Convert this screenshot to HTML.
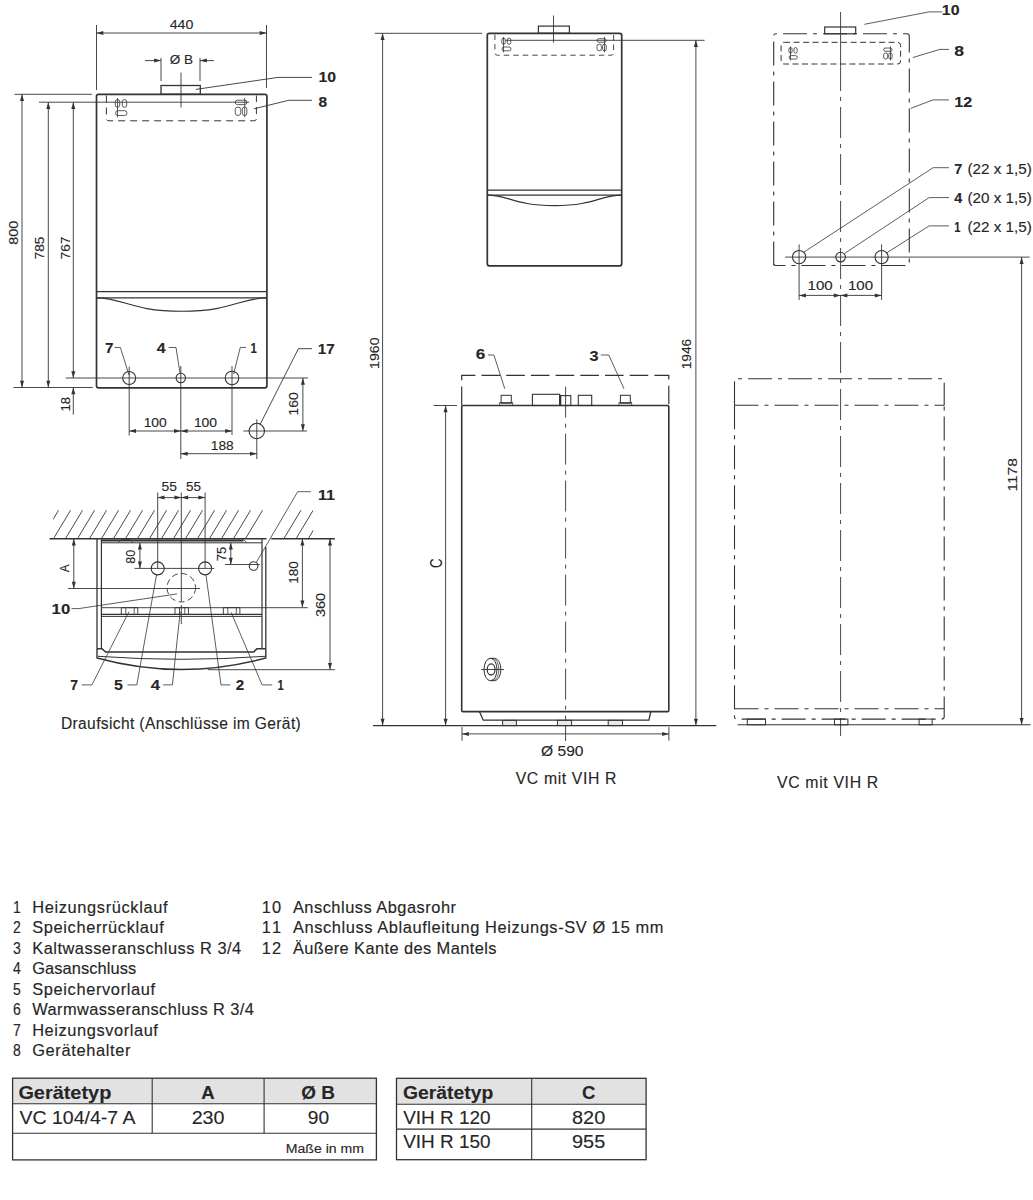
<!DOCTYPE html>
<html><head><meta charset="utf-8"><style>
html,body{margin:0;padding:0;background:#fff;}
body{width:1033px;height:1200px;overflow:hidden;}
svg{display:block;font-family:"Liberation Sans",sans-serif;}
</style></head><body>
<svg width="1033" height="1200" viewBox="0 0 1033 1200">
<rect x="0" y="0" width="1033" height="1200" fill="#fff"/>
<rect x="96.5" y="94.3" width="170.4" height="293.5" rx="2" fill="none" stroke="#333333" stroke-width="1.7"/>
<line x1="96.5" y1="291.6" x2="266.9" y2="291.6" stroke="#333333" stroke-width="1.2"/>
<line x1="96.5" y1="297.9" x2="266.9" y2="297.9" stroke="#333333" stroke-width="1.2"/>
<path d="M96.5,297.9 C123.76,297.9 130.58,311.3 181.7,311.3 C232.82,311.3 239.64,297.9 266.9,297.9" fill="none" stroke="#333333" stroke-width="1.1"/>
<rect x="161" y="85.5" width="39.3" height="8.8" fill="none" stroke="#333333" stroke-width="1.3"/>
<line x1="181" y1="72.6" x2="181" y2="107.5" stroke="#333333" stroke-width="0.9"/>
<line x1="39" y1="102.2" x2="249" y2="102.2" stroke="#333333" stroke-width="0.9"/>
<path d="M106.4,95.5 V118.3 Q106.4,120.8 109,120.8 H254 Q256.4,120.8 256.4,118.3 V95.5" fill="none" stroke="#333333" stroke-width="1.0" stroke-dasharray="7,5"/>
<rect x="115.3" y="99.5" width="4.4" height="7.8" rx="2.2" fill="none" stroke="#333333" stroke-width="0.8"/>
<line x1="117.5" y1="98" x2="117.5" y2="117.4" stroke="#333333" stroke-width="0.8"/>
<rect x="122.3" y="99.5" width="4.4" height="7.8" rx="2.2" fill="none" stroke="#333333" stroke-width="0.8"/>
<rect x="115.6" y="110.7" width="11.4" height="4.8" rx="2.4" fill="none" stroke="#333333" stroke-width="0.8"/>
<rect x="235.2" y="100.2" width="11.7" height="4.4" rx="2.2" fill="none" stroke="#333333" stroke-width="0.8"/>
<line x1="244.7" y1="97.8" x2="244.7" y2="117.4" stroke="#333333" stroke-width="0.8"/>
<rect x="235.2" y="107" width="5.6" height="8.5" rx="2.8" fill="none" stroke="#333333" stroke-width="0.8"/>
<rect x="242.3" y="107" width="4.6" height="8.5" rx="2.3" fill="none" stroke="#333333" stroke-width="0.8"/>
<line x1="96.5" y1="25" x2="96.5" y2="90" stroke="#333333" stroke-width="0.9"/>
<line x1="266.5" y1="25" x2="266.5" y2="88" stroke="#333333" stroke-width="0.9"/>
<line x1="96.5" y1="33" x2="266.5" y2="33" stroke="#333333" stroke-width="0.9"/>
<polygon points="96.5,33 103.3,31 103.3,35" fill="#333333"/>
<polygon points="266.5,33 259.7,31 259.7,35" fill="#333333"/>
<text x="181.5" y="29" font-size="12.6" text-anchor="middle" textLength="23.6" lengthAdjust="spacingAndGlyphs" fill="#262626" stroke="#262626" stroke-width="0.12">440</text>
<line x1="161" y1="58" x2="161" y2="81" stroke="#333333" stroke-width="0.9"/>
<line x1="200" y1="58" x2="200" y2="81" stroke="#333333" stroke-width="0.9"/>
<line x1="145" y1="60.6" x2="161" y2="60.6" stroke="#333333" stroke-width="0.9"/>
<polygon points="161,60.6 154.2,58.6 154.2,62.6" fill="#333333"/>
<line x1="214" y1="60.6" x2="200" y2="60.6" stroke="#333333" stroke-width="0.9"/>
<polygon points="200,60.6 206.8,58.6 206.8,62.6" fill="#333333"/>
<text x="181.3" y="64" font-size="12" text-anchor="middle" textLength="23.3" lengthAdjust="spacingAndGlyphs" fill="#262626" stroke="#262626" stroke-width="0.12">Ø B</text>
<polyline points="195.8,89.4 278,77.4 312,77.4" fill="none" stroke="#333333" stroke-width="0.9"/>
<text x="318.4" y="82.3" font-size="15.5" font-weight="bold" textLength="17.6" lengthAdjust="spacingAndGlyphs" fill="#262626" stroke="#262626" stroke-width="0.12">10</text>
<polyline points="254,108.8 288.7,100.3 312,100.3" fill="none" stroke="#333333" stroke-width="0.9"/>
<text x="318.4" y="106.5" font-size="15.5" font-weight="bold" textLength="8.6" lengthAdjust="spacingAndGlyphs" fill="#262626" stroke="#262626" stroke-width="0.12">8</text>
<line x1="14.5" y1="94.3" x2="92" y2="94.3" stroke="#333333" stroke-width="0.9"/>
<line x1="22" y1="94.3" x2="22" y2="387.5" stroke="#333333" stroke-width="0.9"/>
<polygon points="22,94.3 20,101.1 24,101.1" fill="#333333"/>
<polygon points="22,387.5 20,380.7 24,380.7" fill="#333333"/>
<line x1="48.3" y1="102.2" x2="48.3" y2="387.5" stroke="#333333" stroke-width="0.9"/>
<polygon points="48.3,102.2 46.3,109 50.3,109" fill="#333333"/>
<polygon points="48.3,387.5 46.3,380.7 50.3,380.7" fill="#333333"/>
<line x1="73.3" y1="102.2" x2="73.3" y2="378" stroke="#333333" stroke-width="0.9"/>
<polygon points="73.3,102.2 71.3,109 75.3,109" fill="#333333"/>
<polygon points="73.3,378 71.3,371.2 75.3,371.2" fill="#333333"/>
<line x1="13.5" y1="387.5" x2="92.7" y2="387.5" stroke="#333333" stroke-width="0.9"/>
<line x1="65.6" y1="378" x2="308" y2="378" stroke="#333333" stroke-width="0.9"/>
<text transform="translate(18.11,232.8) rotate(-90)" x="0" y="0" font-size="12.6" text-anchor="middle" textLength="24" lengthAdjust="spacingAndGlyphs" fill="#262626" stroke="#262626" stroke-width="0.12">800</text>
<text transform="translate(44.01,248) rotate(-90)" x="0" y="0" font-size="12.6" text-anchor="middle" textLength="23" lengthAdjust="spacingAndGlyphs" fill="#262626" stroke="#262626" stroke-width="0.12">785</text>
<text transform="translate(70.01,248) rotate(-90)" x="0" y="0" font-size="12.6" text-anchor="middle" textLength="23" lengthAdjust="spacingAndGlyphs" fill="#262626" stroke="#262626" stroke-width="0.12">767</text>
<line x1="73.3" y1="387.5" x2="73.3" y2="414.6" stroke="#333333" stroke-width="0.9"/>
<polygon points="73.3,387.5 71.3,394.3 75.3,394.3" fill="#333333"/>
<text transform="translate(69.81,404.2) rotate(-90)" x="0" y="0" font-size="12.6" text-anchor="middle" textLength="14.5" lengthAdjust="spacingAndGlyphs" fill="#262626" stroke="#262626" stroke-width="0.12">18</text>
<circle cx="129.2" cy="378" r="6.5" fill="none" stroke="#333333" stroke-width="1.1"/>
<circle cx="180.8" cy="378" r="4.7" fill="none" stroke="#333333" stroke-width="1.1"/>
<circle cx="232" cy="378" r="6.8" fill="none" stroke="#333333" stroke-width="1.1"/>
<line x1="129.2" y1="366.7" x2="129.2" y2="435.4" stroke="#333333" stroke-width="0.9"/>
<line x1="180.8" y1="366" x2="180.8" y2="459" stroke="#333333" stroke-width="0.9"/>
<line x1="232" y1="366" x2="232" y2="435" stroke="#333333" stroke-width="0.9"/>
<text x="105" y="353" font-size="15.5" font-weight="bold" textLength="8.5" lengthAdjust="spacingAndGlyphs" fill="#262626" stroke="#262626" stroke-width="0.12">7</text>
<text x="156.7" y="353" font-size="15.5" font-weight="bold" textLength="8.9" lengthAdjust="spacingAndGlyphs" fill="#262626" stroke="#262626" stroke-width="0.12">4</text>
<text x="250.5" y="352.6" font-size="15.5" font-weight="bold" textLength="6.3" lengthAdjust="spacingAndGlyphs" fill="#262626" stroke="#262626" stroke-width="0.12">1</text>
<polyline points="114.6,347.5 120.4,347.5 129,375" fill="none" stroke="#333333" stroke-width="0.8"/>
<polyline points="168.7,347.5 176,347.5 180,373" fill="none" stroke="#333333" stroke-width="0.8"/>
<polyline points="246,347.4 240.3,347.4 233.6,374" fill="none" stroke="#333333" stroke-width="0.8"/>
<line x1="129.2" y1="431" x2="180.8" y2="431" stroke="#333333" stroke-width="0.9"/>
<polygon points="129.2,431 136,429 136,433" fill="#333333"/>
<polygon points="180.8,431 174,429 174,433" fill="#333333"/>
<line x1="180.8" y1="431" x2="232" y2="431" stroke="#333333" stroke-width="0.9"/>
<polygon points="180.8,431 187.6,429 187.6,433" fill="#333333"/>
<polygon points="232,431 225.2,429 225.2,433" fill="#333333"/>
<text x="155.2" y="427" font-size="12.6" text-anchor="middle" textLength="23" lengthAdjust="spacingAndGlyphs" fill="#262626" stroke="#262626" stroke-width="0.12">100</text>
<text x="205.5" y="427" font-size="12.6" text-anchor="middle" textLength="23.2" lengthAdjust="spacingAndGlyphs" fill="#262626" stroke="#262626" stroke-width="0.12">100</text>
<circle cx="256.8" cy="431" r="7.7" fill="none" stroke="#333333" stroke-width="1.1"/>
<line x1="243.3" y1="431" x2="307" y2="431" stroke="#333333" stroke-width="0.9"/>
<line x1="256.8" y1="419.4" x2="256.8" y2="459" stroke="#333333" stroke-width="0.9"/>
<polyline points="259.7,425.2 298.4,348.7 312,348.7" fill="none" stroke="#333333" stroke-width="0.9"/>
<text x="317.8" y="353.6" font-size="15.5" font-weight="bold" textLength="17" lengthAdjust="spacingAndGlyphs" fill="#262626" stroke="#262626" stroke-width="0.12">17</text>
<line x1="180.8" y1="453.7" x2="256.8" y2="453.7" stroke="#333333" stroke-width="0.9"/>
<polygon points="180.8,453.7 187.6,451.7 187.6,455.7" fill="#333333"/>
<polygon points="256.8,453.7 250,451.7 250,455.7" fill="#333333"/>
<text x="222.2" y="450.4" font-size="12.6" text-anchor="middle" textLength="22.9" lengthAdjust="spacingAndGlyphs" fill="#262626" stroke="#262626" stroke-width="0.12">188</text>
<line x1="302.9" y1="378" x2="302.9" y2="431" stroke="#333333" stroke-width="0.9"/>
<polygon points="302.9,378 300.9,384.8 304.9,384.8" fill="#333333"/>
<polygon points="302.9,431 300.9,424.2 304.9,424.2" fill="#333333"/>
<text transform="translate(297.91,403.9) rotate(-90)" x="0" y="0" font-size="12.6" text-anchor="middle" textLength="23.2" lengthAdjust="spacingAndGlyphs" fill="#262626" stroke="#262626" stroke-width="0.12">160</text>
<clipPath id="hc1"><rect x="53.3" y="505" width="213" height="34"/></clipPath>
<clipPath id="hc2"><rect x="272" y="505" width="41.2" height="34"/></clipPath>
<g clip-path="url(#hc1)">
<line x1="41.5" y1="538.6" x2="58.6" y2="510.2" stroke="#333333" stroke-width="0.9"/>
<line x1="53.5" y1="538.6" x2="70.6" y2="510.2" stroke="#333333" stroke-width="0.9"/>
<line x1="65.5" y1="538.6" x2="82.6" y2="510.2" stroke="#333333" stroke-width="0.9"/>
<line x1="77.5" y1="538.6" x2="94.6" y2="510.2" stroke="#333333" stroke-width="0.9"/>
<line x1="89.5" y1="538.6" x2="106.6" y2="510.2" stroke="#333333" stroke-width="0.9"/>
<line x1="101.5" y1="538.6" x2="118.6" y2="510.2" stroke="#333333" stroke-width="0.9"/>
<line x1="113.5" y1="538.6" x2="130.6" y2="510.2" stroke="#333333" stroke-width="0.9"/>
<line x1="125.5" y1="538.6" x2="142.6" y2="510.2" stroke="#333333" stroke-width="0.9"/>
<line x1="137.5" y1="538.6" x2="154.6" y2="510.2" stroke="#333333" stroke-width="0.9"/>
<line x1="149.5" y1="538.6" x2="166.6" y2="510.2" stroke="#333333" stroke-width="0.9"/>
<line x1="161.5" y1="538.6" x2="178.6" y2="510.2" stroke="#333333" stroke-width="0.9"/>
<line x1="173.5" y1="538.6" x2="190.6" y2="510.2" stroke="#333333" stroke-width="0.9"/>
<line x1="185.5" y1="538.6" x2="202.6" y2="510.2" stroke="#333333" stroke-width="0.9"/>
<line x1="197.5" y1="538.6" x2="214.6" y2="510.2" stroke="#333333" stroke-width="0.9"/>
<line x1="209.5" y1="538.6" x2="226.6" y2="510.2" stroke="#333333" stroke-width="0.9"/>
<line x1="221.5" y1="538.6" x2="238.6" y2="510.2" stroke="#333333" stroke-width="0.9"/>
<line x1="233.5" y1="538.6" x2="250.6" y2="510.2" stroke="#333333" stroke-width="0.9"/>
<line x1="245.5" y1="538.6" x2="262.6" y2="510.2" stroke="#333333" stroke-width="0.9"/>
</g><g clip-path="url(#hc2)">
<line x1="283.9" y1="538.6" x2="301" y2="510.2" stroke="#333333" stroke-width="0.9"/>
<line x1="296.1" y1="538.6" x2="313.2" y2="510.2" stroke="#333333" stroke-width="0.9"/>
<line x1="308.3" y1="538.6" x2="325.4" y2="510.2" stroke="#333333" stroke-width="0.9"/>
</g>
<line x1="49.6" y1="538.7" x2="266.5" y2="538.7" stroke="#333333" stroke-width="1.6"/>
<line x1="271.3" y1="538.7" x2="334.9" y2="538.7" stroke="#333333" stroke-width="1.6"/>
<line x1="97" y1="538.7" x2="97" y2="648.7" stroke="#333333" stroke-width="1.3"/>
<line x1="101.4" y1="538.7" x2="101.4" y2="648.7" stroke="#333333" stroke-width="1.2"/>
<line x1="262" y1="538.7" x2="262" y2="648.7" stroke="#333333" stroke-width="1.2"/>
<line x1="265.8" y1="547" x2="265.8" y2="648.7" stroke="#333333" stroke-width="1.3"/>
<line x1="101.4" y1="542.8" x2="262" y2="542.8" stroke="#333333" stroke-width="1.0"/>
<polyline points="101.4,540.6 243.5,540.6" fill="none" stroke="#333333" stroke-width="2.0"/>
<polyline points="118,542.8 121.5,539.5 130,539.5 133,542.8" fill="none" stroke="#333333" stroke-width="0.8"/>
<polyline points="243.5,539.5 247,542.8" fill="none" stroke="#333333" stroke-width="0.8"/>
<line x1="73.8" y1="538.7" x2="73.8" y2="588.5" stroke="#333333" stroke-width="0.9"/>
<polygon points="73.8,538.7 71.8,545.5 75.8,545.5" fill="#333333"/>
<polygon points="73.8,588.5 71.8,581.7 75.8,581.7" fill="#333333"/>
<text transform="translate(69.11,568.3) rotate(-90)" x="0" y="0" font-size="12.6" text-anchor="middle" textLength="7.8" lengthAdjust="spacingAndGlyphs" fill="#262626" stroke="#262626" stroke-width="0.12">A</text>
<line x1="67.9" y1="588.5" x2="200" y2="588.5" stroke="#333333" stroke-width="0.9"/>
<line x1="139.9" y1="542.8" x2="139.9" y2="568.4" stroke="#333333" stroke-width="0.9"/>
<polygon points="139.9,542.8 137.9,549.6 141.9,549.6" fill="#333333"/>
<polygon points="139.9,568.4 137.9,561.6 141.9,561.6" fill="#333333"/>
<text transform="translate(135.01,556.7) rotate(-90)" x="0" y="0" font-size="12.6" text-anchor="middle" textLength="14" lengthAdjust="spacingAndGlyphs" fill="#262626" stroke="#262626" stroke-width="0.12">80</text>
<line x1="134.5" y1="568.4" x2="214.3" y2="568.4" stroke="#333333" stroke-width="0.9"/>
<circle cx="157.7" cy="568.4" r="6.5" fill="none" stroke="#333333" stroke-width="1.1"/>
<circle cx="205.1" cy="568.4" r="6.5" fill="none" stroke="#333333" stroke-width="1.1"/>
<line x1="157.7" y1="492.5" x2="157.7" y2="568.4" stroke="#333333" stroke-width="0.9"/>
<line x1="205.1" y1="492.5" x2="205.1" y2="568.4" stroke="#333333" stroke-width="0.9"/>
<line x1="181.3" y1="492.5" x2="181.3" y2="601.7" stroke="#333333" stroke-width="0.9"/>
<line x1="181.3" y1="605" x2="181.3" y2="624" stroke="#333333" stroke-width="0.9"/>
<line x1="157.7" y1="497.6" x2="181.3" y2="497.6" stroke="#333333" stroke-width="0.9"/>
<polygon points="157.7,497.6 164.5,495.6 164.5,499.6" fill="#333333"/>
<polygon points="181.3,497.6 174.5,495.6 174.5,499.6" fill="#333333"/>
<line x1="181.3" y1="497.6" x2="205.1" y2="497.6" stroke="#333333" stroke-width="0.9"/>
<polygon points="181.3,497.6 188.1,495.6 188.1,499.6" fill="#333333"/>
<polygon points="205.1,497.6 198.3,495.6 198.3,499.6" fill="#333333"/>
<text x="169.3" y="491" font-size="12.6" text-anchor="middle" textLength="15.4" lengthAdjust="spacingAndGlyphs" fill="#262626" stroke="#262626" stroke-width="0.12">55</text>
<text x="193.4" y="491" font-size="12.6" text-anchor="middle" textLength="15" lengthAdjust="spacingAndGlyphs" fill="#262626" stroke="#262626" stroke-width="0.12">55</text>
<circle cx="181.3" cy="587.7" r="14.25" fill="none" stroke="#333333" stroke-width="0.9" stroke-dasharray="6,3.5"/>
<text x="51.6" y="614" font-size="15.5" font-weight="bold" textLength="18.6" lengthAdjust="spacingAndGlyphs" fill="#262626" stroke="#262626" stroke-width="0.12">10</text>
<polyline points="71.5,608.6 78.7,608.6 177,593.9" fill="none" stroke="#333333" stroke-width="0.8"/>
<line x1="230.8" y1="542.8" x2="230.8" y2="564.5" stroke="#333333" stroke-width="0.9"/>
<polygon points="230.8,542.8 228.8,549.6 232.8,549.6" fill="#333333"/>
<polygon points="230.8,564.5 228.8,557.7 232.8,557.7" fill="#333333"/>
<text transform="translate(225.91,554) rotate(-90)" x="0" y="0" font-size="12.6" text-anchor="middle" textLength="14.7" lengthAdjust="spacingAndGlyphs" fill="#262626" stroke="#262626" stroke-width="0.12">75</text>
<line x1="225" y1="564.5" x2="259.8" y2="564.5" stroke="#333333" stroke-width="0.9"/>
<circle cx="253.6" cy="566" r="4.3" fill="none" stroke="#333333" stroke-width="1.1"/>
<polyline points="255.9,563 297.7,491.7 310.9,491.7" fill="none" stroke="#333333" stroke-width="0.8"/>
<text x="317.9" y="499.7" font-size="15.5" font-weight="bold" textLength="17" lengthAdjust="spacingAndGlyphs" fill="#262626" stroke="#262626" stroke-width="0.12">11</text>
<line x1="302.4" y1="538.7" x2="302.4" y2="607.3" stroke="#333333" stroke-width="0.9"/>
<polygon points="302.4,538.7 300.4,545.5 304.4,545.5" fill="#333333"/>
<polygon points="302.4,607.3 300.4,600.5 304.4,600.5" fill="#333333"/>
<text transform="translate(297.91,572.6) rotate(-90)" x="0" y="0" font-size="12.6" text-anchor="middle" textLength="22.4" lengthAdjust="spacingAndGlyphs" fill="#262626" stroke="#262626" stroke-width="0.12">180</text>
<line x1="101.4" y1="607.7" x2="307.8" y2="607.7" stroke="#333333" stroke-width="0.9"/>
<line x1="330" y1="538.7" x2="330" y2="669.7" stroke="#333333" stroke-width="0.9"/>
<polygon points="330,538.7 328,545.5 332,545.5" fill="#333333"/>
<polygon points="330,669.7 328,662.9 332,662.9" fill="#333333"/>
<text transform="translate(325.41,605) rotate(-90)" x="0" y="0" font-size="12.6" text-anchor="middle" textLength="24.2" lengthAdjust="spacingAndGlyphs" fill="#262626" stroke="#262626" stroke-width="0.12">360</text>
<line x1="207.7" y1="669.7" x2="334.9" y2="669.7" stroke="#333333" stroke-width="0.9"/>
<line x1="101.4" y1="614.4" x2="262" y2="614.4" stroke="#333333" stroke-width="1.3"/>
<line x1="101.4" y1="616.4" x2="262" y2="616.4" stroke="#333333" stroke-width="1.0"/>
<rect x="121.3" y="607.7" width="16.5" height="6.7" fill="none" stroke="#333333" stroke-width="0.9"/>
<line x1="125.8" y1="607.7" x2="125.8" y2="614.4" stroke="#333333" stroke-width="0.8"/>
<line x1="134.2" y1="607.7" x2="134.2" y2="614.4" stroke="#333333" stroke-width="0.8"/>
<rect x="175" y="607.7" width="13.4" height="6.7" fill="none" stroke="#333333" stroke-width="0.9"/>
<line x1="179.5" y1="607.7" x2="179.5" y2="614.4" stroke="#333333" stroke-width="0.8"/>
<line x1="184.8" y1="607.7" x2="184.8" y2="614.4" stroke="#333333" stroke-width="0.8"/>
<rect x="223.3" y="607.7" width="16.6" height="6.7" fill="none" stroke="#333333" stroke-width="0.9"/>
<line x1="227.8" y1="607.7" x2="227.8" y2="614.4" stroke="#333333" stroke-width="0.8"/>
<line x1="236.3" y1="607.7" x2="236.3" y2="614.4" stroke="#333333" stroke-width="0.8"/>
<path d="M97,648.7 V658 Q181.4,681 265.8,658 V648.7" fill="none" stroke="#333333" stroke-width="1.4"/>
<path d="M97,648.7 H102 L105.6,652 H253.7 L257,648.7 H265.8" fill="none" stroke="#333333" stroke-width="1.6"/>
<path d="M98,656.3 Q181.4,662.3 265,656.3" fill="none" stroke="#333333" stroke-width="1.0"/>
<text x="70.2" y="689.8" font-size="15.5" font-weight="bold" textLength="7.8" lengthAdjust="spacingAndGlyphs" fill="#262626" stroke="#262626" stroke-width="0.12">7</text>
<text x="114" y="689.8" font-size="15.5" font-weight="bold" textLength="8.9" lengthAdjust="spacingAndGlyphs" fill="#262626" stroke="#262626" stroke-width="0.12">5</text>
<text x="150.7" y="689.8" font-size="15.5" font-weight="bold" textLength="9.3" lengthAdjust="spacingAndGlyphs" fill="#262626" stroke="#262626" stroke-width="0.12">4</text>
<text x="235.8" y="689.8" font-size="15.5" font-weight="bold" textLength="8.5" lengthAdjust="spacingAndGlyphs" fill="#262626" stroke="#262626" stroke-width="0.12">2</text>
<text x="277.6" y="689.8" font-size="15.5" font-weight="bold" textLength="6.2" lengthAdjust="spacingAndGlyphs" fill="#262626" stroke="#262626" stroke-width="0.12">1</text>
<polyline points="81.8,684.9 91.9,684.9 129,611.6" fill="none" stroke="#333333" stroke-width="0.8"/>
<polyline points="127.5,684.9 136.8,684.9 156.5,575" fill="none" stroke="#333333" stroke-width="0.8"/>
<polyline points="163.1,684.9 172.4,684.9 180.2,611.6" fill="none" stroke="#333333" stroke-width="0.8"/>
<polyline points="230.3,684.9 221,684.9 206,575" fill="none" stroke="#333333" stroke-width="0.8"/>
<polyline points="272.2,684.9 262.1,684.9 231.1,612.4" fill="none" stroke="#333333" stroke-width="0.8"/>
<text x="60.9" y="729" font-size="15.6" textLength="239.9" lengthAdjust="spacing" fill="#262626" stroke="#262626" stroke-width="0.12">Draufsicht (Anschlüsse im Gerät)</text>
<rect x="487.3" y="33.3" width="134.4" height="232.5" rx="2" fill="none" stroke="#333333" stroke-width="1.7"/>
<line x1="487.3" y1="190.1" x2="621.7" y2="190.1" stroke="#333333" stroke-width="1.2"/>
<line x1="487.3" y1="195.1" x2="621.7" y2="195.1" stroke="#333333" stroke-width="1.2"/>
<path d="M487.3,195.1 C508.8,195.1 514.18,205.6 554.5,205.6 C594.82,205.6 600.2,195.1 621.7,195.1" fill="none" stroke="#333333" stroke-width="1.1"/>
<rect x="538.4" y="26.1" width="31" height="7.2" fill="none" stroke="#333333" stroke-width="1.2"/>
<line x1="553.5" y1="15.5" x2="553.5" y2="42.6" stroke="#333333" stroke-width="0.9"/>
<line x1="505.5" y1="40.3" x2="704.6" y2="40.3" stroke="#333333" stroke-width="0.9"/>
<path d="M494.9,34.5 V52.7 Q494.9,55.2 497.4,55.2 H611.1 Q613.6,55.2 613.6,52.7 V34.5" fill="none" stroke="#333333" stroke-width="0.9" stroke-dasharray="5.5,4"/>
<rect x="501.76" y="38.17" width="3.48" height="6.16" rx="1.7380000000000002" fill="none" stroke="#333333" stroke-width="0.8"/>
<line x1="503.5" y1="36.98" x2="503.5" y2="52.31" stroke="#333333" stroke-width="0.8"/>
<rect x="507.29" y="38.17" width="3.48" height="6.16" rx="1.7380000000000002" fill="none" stroke="#333333" stroke-width="0.8"/>
<rect x="502" y="47.02" width="9.01" height="3.79" rx="1.896" fill="none" stroke="#333333" stroke-width="0.8"/>
<rect x="597" y="38.72" width="9.24" height="3.48" rx="1.7380000000000002" fill="none" stroke="#333333" stroke-width="0.8"/>
<line x1="604.5" y1="36.82" x2="604.5" y2="52.31" stroke="#333333" stroke-width="0.8"/>
<rect x="597" y="44.09" width="4.42" height="6.71" rx="2.2119999999999997" fill="none" stroke="#333333" stroke-width="0.8"/>
<rect x="602.6" y="44.09" width="3.63" height="6.71" rx="1.817" fill="none" stroke="#333333" stroke-width="0.8"/>
<line x1="374.8" y1="33.3" x2="482.3" y2="33.3" stroke="#333333" stroke-width="0.9"/>
<line x1="382.6" y1="33.3" x2="382.6" y2="725.6" stroke="#333333" stroke-width="0.9"/>
<polygon points="382.6,33.3 380.6,40.1 384.6,40.1" fill="#333333"/>
<polygon points="382.6,725.6 380.6,718.8 384.6,718.8" fill="#333333"/>
<text transform="translate(378.91,353.2) rotate(-90)" x="0" y="0" font-size="12.6" text-anchor="middle" textLength="31.4" lengthAdjust="spacingAndGlyphs" fill="#262626" stroke="#262626" stroke-width="0.12">1960</text>
<line x1="695.9" y1="40.3" x2="695.9" y2="725.6" stroke="#333333" stroke-width="0.9"/>
<polygon points="695.9,40.3 693.9,47.1 697.9,47.1" fill="#333333"/>
<polygon points="695.9,725.6 693.9,718.8 697.9,718.8" fill="#333333"/>
<text transform="translate(691.31,354) rotate(-90)" x="0" y="0" font-size="12.6" text-anchor="middle" textLength="30.5" lengthAdjust="spacingAndGlyphs" fill="#262626" stroke="#262626" stroke-width="0.12">1946</text>
<rect x="461.7" y="405.5" width="207.1" height="306.1" rx="1.2" fill="none" stroke="#333333" stroke-width="1.6"/>
<path d="M461.7,405 V375.4 H668.8 V405" fill="none" stroke="#333333" stroke-width="1.2" stroke-dasharray="18.6,6.1"/>
<rect x="501.1" y="395.3" width="10.2" height="8" fill="none" stroke="#333333" stroke-width="1.0"/>
<rect x="499.7" y="402.6" width="13" height="2.9" fill="none" stroke="#333333" stroke-width="0.8"/>
<rect x="620.4" y="395.3" width="9.9" height="8" fill="none" stroke="#333333" stroke-width="1.0"/>
<rect x="619" y="402.6" width="12.7" height="2.9" fill="none" stroke="#333333" stroke-width="0.8"/>
<rect x="532.4" y="394.3" width="27.3" height="11.2" fill="none" stroke="#333333" stroke-width="1.1"/>
<rect x="559.9" y="395.6" width="10.9" height="9.9" fill="none" stroke="#333333" stroke-width="1.1"/>
<line x1="560.3" y1="395.6" x2="560.3" y2="405.5" stroke="#333333" stroke-width="2.0"/>
<rect x="578.3" y="395.3" width="13.4" height="10.2" fill="none" stroke="#333333" stroke-width="1.1"/>
<line x1="565.6" y1="386.6" x2="565.6" y2="741" stroke="#333333" stroke-width="0.9" stroke-dasharray="31,6,4,6"/>
<text x="475.7" y="359" font-size="15.5" font-weight="bold" textLength="9.5" lengthAdjust="spacingAndGlyphs" fill="#262626" stroke="#262626" stroke-width="0.12">6</text>
<text x="589.5" y="360.5" font-size="15.5" font-weight="bold" textLength="9.1" lengthAdjust="spacingAndGlyphs" fill="#262626" stroke="#262626" stroke-width="0.12">3</text>
<polyline points="488,355 493.9,355 504.8,388.8" fill="none" stroke="#333333" stroke-width="0.8"/>
<polyline points="600.8,355 608.8,355 624,388.8" fill="none" stroke="#333333" stroke-width="0.8"/>
<line x1="433.6" y1="405.5" x2="456.9" y2="405.5" stroke="#333333" stroke-width="0.9"/>
<line x1="445.6" y1="405.5" x2="445.6" y2="725.6" stroke="#333333" stroke-width="0.9"/>
<polygon points="445.6,405.5 443.6,412.3 447.6,412.3" fill="#333333"/>
<polygon points="445.6,725.6 443.6,718.8 447.6,718.8" fill="#333333"/>
<text transform="translate(441.55,563.2) rotate(-90)" x="0" y="0" font-size="17" text-anchor="middle" textLength="9.5" lengthAdjust="spacingAndGlyphs" fill="#262626" stroke="#262626" stroke-width="0.12">C</text>
<path d="M479.4,711.6 L483.3,720.2 H648.9 L650.8,711.6" fill="none" stroke="#333333" stroke-width="1.3"/>
<rect x="502.6" y="720.4" width="13.8" height="5.2" fill="#e8e8e8" stroke="#333333" stroke-width="1.0"/>
<rect x="557.4" y="720.4" width="14.2" height="5.2" fill="#e8e8e8" stroke="#333333" stroke-width="1.0"/>
<rect x="608.2" y="720.4" width="14.3" height="5.2" fill="#e8e8e8" stroke="#333333" stroke-width="1.0"/>
<line x1="373" y1="725.6" x2="716.3" y2="725.6" stroke="#333333" stroke-width="1.1"/>
<ellipse cx="490.5" cy="669.5" rx="6.5" ry="11.2" fill="none" stroke="#2e2e2e" stroke-width="1.0"/>
<path d="M490.5,658.3 H494.4 A6.5,11.2 0 0,1 494.4,680.7 H490.5" fill="none" stroke="#333333" stroke-width="1.0"/>
<path d="M492.4,658.3 A6.5,11.2 0 0,1 492.4,680.7" fill="none" stroke="#333333" stroke-width="0.7"/>
<ellipse cx="491.1" cy="669.4" rx="3.9" ry="5.5" fill="none" stroke="#2e2e2e" stroke-width="1.2"/>
<line x1="481.1" y1="669.5" x2="504" y2="669.5" stroke="#333333" stroke-width="0.9"/>
<line x1="462" y1="727" x2="462" y2="740.7" stroke="#333333" stroke-width="0.9"/>
<line x1="668.9" y1="727" x2="668.9" y2="740.7" stroke="#333333" stroke-width="0.9"/>
<line x1="462" y1="733.9" x2="668.9" y2="733.9" stroke="#333333" stroke-width="0.9"/>
<polygon points="462,733.9 468.8,731.9 468.8,735.9" fill="#333333"/>
<polygon points="668.9,733.9 662.1,731.9 662.1,735.9" fill="#333333"/>
<text x="541.1" y="756.2" font-size="14" textLength="42.4" lengthAdjust="spacingAndGlyphs" fill="#262626" stroke="#262626" stroke-width="0.12">Ø 590</text>
<text x="515.7" y="783.5" font-size="15.8" textLength="100.7" lengthAdjust="spacing" fill="#262626" stroke="#262626" stroke-width="0.12">VC mit VIH R</text>
<path d="M773.7,265.5 V36 Q773.7,33.8 776,33.8 H907 Q909.3,33.8 909.3,36 V263.3 Q909.3,265.5 907,265.5 H776 Q773.7,265.5 773.7,263.3" fill="none" stroke="#333333" stroke-width="1.1" stroke-dasharray="24,6,4,6"/>
<rect x="824.7" y="27" width="31" height="6.8" fill="none" stroke="#333333" stroke-width="1.2"/>
<line x1="840.6" y1="12" x2="840.6" y2="66.5" stroke="#333333" stroke-width="0.9"/>
<line x1="840.6" y1="66.5" x2="840.6" y2="736" stroke="#333333" stroke-width="0.9" stroke-dasharray="31,6,4,6" stroke-dashoffset="6.5"/>
<rect x="781.1" y="42.3" width="119.5" height="21.7" rx="3" fill="none" stroke="#333333" stroke-width="1.0" stroke-dasharray="6,3.5"/>
<rect x="788.92" y="47.56" width="3.17" height="5.62" rx="1.584" fill="none" stroke="#333333" stroke-width="0.8"/>
<line x1="790.5" y1="46.48" x2="790.5" y2="60.44" stroke="#333333" stroke-width="0.8"/>
<rect x="793.96" y="47.56" width="3.17" height="5.62" rx="1.584" fill="none" stroke="#333333" stroke-width="0.8"/>
<rect x="789.13" y="55.62" width="8.21" height="3.46" rx="1.728" fill="none" stroke="#333333" stroke-width="0.8"/>
<rect x="883.66" y="48.06" width="8.42" height="3.17" rx="1.584" fill="none" stroke="#333333" stroke-width="0.8"/>
<line x1="890.5" y1="46.33" x2="890.5" y2="60.44" stroke="#333333" stroke-width="0.8"/>
<rect x="883.66" y="52.96" width="4.03" height="6.12" rx="2.016" fill="none" stroke="#333333" stroke-width="0.8"/>
<rect x="888.77" y="52.96" width="3.31" height="6.12" rx="1.656" fill="none" stroke="#333333" stroke-width="0.8"/>
<polyline points="864.4,24.3 929.1,11.9 942.3,11.9" fill="none" stroke="#333333" stroke-width="0.8"/>
<text x="941.8" y="14.5" font-size="15.5" font-weight="bold" textLength="17.7" lengthAdjust="spacingAndGlyphs" fill="#262626" stroke="#262626" stroke-width="0.12">10</text>
<polyline points="912.7,57.6 939.7,49.4 949,49.4" fill="none" stroke="#333333" stroke-width="0.8"/>
<text x="954.2" y="55.5" font-size="15.5" font-weight="bold" textLength="9.8" lengthAdjust="spacingAndGlyphs" fill="#262626" stroke="#262626" stroke-width="0.12">8</text>
<polyline points="910.6,108.4 933.1,99.9 949,99.9" fill="none" stroke="#333333" stroke-width="0.8"/>
<text x="954.2" y="106.5" font-size="15.5" font-weight="bold" textLength="18" lengthAdjust="spacingAndGlyphs" fill="#262626" stroke="#262626" stroke-width="0.12">12</text>
<circle cx="799.1" cy="257.1" r="6.6" fill="none" stroke="#333333" stroke-width="1.1"/>
<circle cx="840.6" cy="257.1" r="4.8" fill="none" stroke="#333333" stroke-width="1.1"/>
<circle cx="881.6" cy="257.1" r="6.6" fill="none" stroke="#333333" stroke-width="1.1"/>
<line x1="785.1" y1="257.1" x2="1029.6" y2="257.1" stroke="#333333" stroke-width="0.9"/>
<line x1="799.1" y1="244.4" x2="799.1" y2="299.9" stroke="#333333" stroke-width="0.9"/>
<line x1="881.6" y1="244.4" x2="881.6" y2="299.9" stroke="#333333" stroke-width="0.9"/>
<line x1="799.1" y1="295.4" x2="840.6" y2="295.4" stroke="#333333" stroke-width="0.9"/>
<polygon points="799.1,295.4 805.9,293.4 805.9,297.4" fill="#333333"/>
<polygon points="840.6,295.4 833.8,293.4 833.8,297.4" fill="#333333"/>
<line x1="840.6" y1="295.4" x2="881.6" y2="295.4" stroke="#333333" stroke-width="0.9"/>
<polygon points="840.6,295.4 847.4,293.4 847.4,297.4" fill="#333333"/>
<polygon points="881.6,295.4 874.8,293.4 874.8,297.4" fill="#333333"/>
<text x="820.1" y="290.1" font-size="12.6" text-anchor="middle" textLength="25.1" lengthAdjust="spacingAndGlyphs" fill="#262626" stroke="#262626" stroke-width="0.12">100</text>
<text x="860.5" y="290.1" font-size="12.6" text-anchor="middle" textLength="25.1" lengthAdjust="spacingAndGlyphs" fill="#262626" stroke="#262626" stroke-width="0.12">100</text>
<text x="954.2" y="174.4" font-size="15.5" font-weight="bold" textLength="8" lengthAdjust="spacingAndGlyphs" fill="#262626" stroke="#262626" stroke-width="0.12">7</text>
<text x="967.5" y="174.4" font-size="14" textLength="64.2" lengthAdjust="spacingAndGlyphs" fill="#262626" stroke="#262626" stroke-width="0.12">(22 x 1,5)</text>
<text x="954.2" y="203.4" font-size="15.5" font-weight="bold" textLength="8" lengthAdjust="spacingAndGlyphs" fill="#262626" stroke="#262626" stroke-width="0.12">4</text>
<text x="967.5" y="203.4" font-size="14" textLength="64.2" lengthAdjust="spacingAndGlyphs" fill="#262626" stroke="#262626" stroke-width="0.12">(20 x 1,5)</text>
<text x="954.2" y="232" font-size="15.5" font-weight="bold" textLength="6.2" lengthAdjust="spacingAndGlyphs" fill="#262626" stroke="#262626" stroke-width="0.12">1</text>
<text x="967.5" y="232" font-size="14" textLength="64.2" lengthAdjust="spacingAndGlyphs" fill="#262626" stroke="#262626" stroke-width="0.12">(22 x 1,5)</text>
<polyline points="803.6,252.3 933.1,167.7 949,167.7" fill="none" stroke="#333333" stroke-width="0.8"/>
<polyline points="845.1,253.1 929.1,197.6 949,197.6" fill="none" stroke="#333333" stroke-width="0.8"/>
<polyline points="886.3,253.1 929.1,225.9 949,225.9" fill="none" stroke="#333333" stroke-width="0.8"/>
<line x1="1021.6" y1="257.1" x2="1021.6" y2="724.8" stroke="#333333" stroke-width="0.9"/>
<polygon points="1021.6,257.1 1019.6,263.9 1023.6,263.9" fill="#333333"/>
<polygon points="1021.6,724.8 1019.6,718 1023.6,718" fill="#333333"/>
<text transform="translate(1016.91,474.9) rotate(-90)" x="0" y="0" font-size="12.6" text-anchor="middle" textLength="33.3" lengthAdjust="spacingAndGlyphs" fill="#262626" stroke="#262626" stroke-width="0.12">1178</text>
<path d="M734.5,405.2 V378.8 H944.2 V405.2" fill="none" stroke="#333333" stroke-width="1.1" stroke-dasharray="24,6,4,6"/>
<line x1="734.5" y1="405.2" x2="944.2" y2="405.2" stroke="#333333" stroke-width="1.1" stroke-dasharray="24,6,4,6"/>
<path d="M734.5,405.2 V716.5 Q734.5,719.1 737,719.1 H941.7 Q944.2,719.1 944.2,716.5 V405.2" fill="none" stroke="#333333" stroke-width="1.1" stroke-dasharray="24,6,4,6"/>
<line x1="734.5" y1="708.8" x2="944.2" y2="708.8" stroke="#333333" stroke-width="1.1" stroke-dasharray="24,6,4,6"/>
<rect x="747.3" y="719.1" width="18.2" height="5.7" fill="none" stroke="#333333" stroke-width="1.0"/>
<rect x="834.5" y="719.1" width="13.4" height="5.7" fill="none" stroke="#333333" stroke-width="1.0"/>
<rect x="919.1" y="719.1" width="13" height="5.7" fill="none" stroke="#333333" stroke-width="1.0"/>
<line x1="737.6" y1="724.8" x2="1030.6" y2="724.8" stroke="#333333" stroke-width="1.1"/>
<text x="777" y="787.6" font-size="15.8" textLength="101.2" lengthAdjust="spacing" fill="#262626" stroke="#262626" stroke-width="0.12">VC mit VIH R</text>
<text x="13.1" y="912.6" font-size="16.4" textLength="7.8" lengthAdjust="spacingAndGlyphs" fill="#262626" stroke="#262626" stroke-width="0.15">1</text>
<text x="32.2" y="912.6" font-size="16.4" textLength="135.3" lengthAdjust="spacing" fill="#262626" stroke="#262626" stroke-width="0.15">Heizungsrücklauf</text>
<text x="13.1" y="933.1" font-size="16.4" textLength="7.8" lengthAdjust="spacingAndGlyphs" fill="#262626" stroke="#262626" stroke-width="0.15">2</text>
<text x="32.2" y="933.1" font-size="16.4" textLength="131.7" lengthAdjust="spacing" fill="#262626" stroke="#262626" stroke-width="0.15">Speicherrücklauf</text>
<text x="13.1" y="953.6" font-size="16.4" textLength="7.8" lengthAdjust="spacingAndGlyphs" fill="#262626" stroke="#262626" stroke-width="0.15">3</text>
<text x="32.2" y="953.6" font-size="16.4" textLength="209" lengthAdjust="spacing" fill="#262626" stroke="#262626" stroke-width="0.15">Kaltwasseranschluss R 3/4</text>
<text x="13.1" y="974.1" font-size="16.4" textLength="7.8" lengthAdjust="spacingAndGlyphs" fill="#262626" stroke="#262626" stroke-width="0.15">4</text>
<text x="32.2" y="974.1" font-size="16.4" textLength="104" lengthAdjust="spacing" fill="#262626" stroke="#262626" stroke-width="0.15">Gasanschluss</text>
<text x="13.1" y="994.6" font-size="16.4" textLength="7.8" lengthAdjust="spacingAndGlyphs" fill="#262626" stroke="#262626" stroke-width="0.15">5</text>
<text x="32.2" y="994.6" font-size="16.4" textLength="122.9" lengthAdjust="spacing" fill="#262626" stroke="#262626" stroke-width="0.15">Speichervorlauf</text>
<text x="13.1" y="1015.1" font-size="16.4" textLength="7.8" lengthAdjust="spacingAndGlyphs" fill="#262626" stroke="#262626" stroke-width="0.15">6</text>
<text x="32.2" y="1015.1" font-size="16.4" textLength="221.7" lengthAdjust="spacing" fill="#262626" stroke="#262626" stroke-width="0.15">Warmwasseranschluss R 3/4</text>
<text x="13.1" y="1035.6" font-size="16.4" textLength="7.8" lengthAdjust="spacingAndGlyphs" fill="#262626" stroke="#262626" stroke-width="0.15">7</text>
<text x="32.2" y="1035.6" font-size="16.4" textLength="125.7" lengthAdjust="spacing" fill="#262626" stroke="#262626" stroke-width="0.15">Heizungsvorlauf</text>
<text x="13.1" y="1056.1" font-size="16.4" textLength="7.8" lengthAdjust="spacingAndGlyphs" fill="#262626" stroke="#262626" stroke-width="0.15">8</text>
<text x="32.2" y="1056.1" font-size="16.4" textLength="98.2" lengthAdjust="spacing" fill="#262626" stroke="#262626" stroke-width="0.15">Gerätehalter</text>
<text x="261.7" y="912.6" font-size="16.4" textLength="19.5" lengthAdjust="spacing" fill="#262626" stroke="#262626" stroke-width="0.15">10</text>
<text x="292.9" y="912.6" font-size="16.4" textLength="163.1" lengthAdjust="spacing" fill="#262626" stroke="#262626" stroke-width="0.15">Anschluss Abgasrohr</text>
<text x="261.7" y="933.1" font-size="16.4" textLength="19.5" lengthAdjust="spacing" fill="#262626" stroke="#262626" stroke-width="0.15">11</text>
<text x="292.9" y="933.1" font-size="16.4" textLength="370.5" lengthAdjust="spacing" fill="#262626" stroke="#262626" stroke-width="0.15">Anschluss Ablaufleitung Heizungs-SV Ø 15 mm</text>
<text x="261.7" y="953.6" font-size="16.4" textLength="19.5" lengthAdjust="spacing" fill="#262626" stroke="#262626" stroke-width="0.15">12</text>
<text x="292.9" y="953.6" font-size="16.4" textLength="203.6" lengthAdjust="spacing" fill="#262626" stroke="#262626" stroke-width="0.15">Äußere Kante des Mantels</text>
<rect x="12.6" y="1078.2" width="363.8" height="25.5" fill="#e2e2e2" stroke="none" stroke-width="0"/>
<rect x="12.6" y="1078.2" width="363.8" height="81.7" fill="none" stroke="#333333" stroke-width="1.3"/>
<line x1="12.6" y1="1103.7" x2="376.4" y2="1103.7" stroke="#333333" stroke-width="1.1"/>
<line x1="12.6" y1="1133.2" x2="376.4" y2="1133.2" stroke="#333333" stroke-width="1.1"/>
<line x1="152.2" y1="1078.2" x2="152.2" y2="1133.2" stroke="#333333" stroke-width="1.1"/>
<line x1="264.1" y1="1078.2" x2="264.1" y2="1133.2" stroke="#333333" stroke-width="1.1"/>
<text x="18.4" y="1098.9" font-size="18.5" font-weight="bold" textLength="92.9" lengthAdjust="spacingAndGlyphs" fill="#262626" stroke="#262626" stroke-width="0.12">Gerätetyp</text>
<text x="208" y="1098.9" font-size="18.5" font-weight="bold" text-anchor="middle" fill="#262626" stroke="#262626" stroke-width="0.12">A</text>
<text x="318.1" y="1098.9" font-size="18.5" font-weight="bold" text-anchor="middle" textLength="33.7" lengthAdjust="spacingAndGlyphs" fill="#262626" stroke="#262626" stroke-width="0.12">Ø B</text>
<text x="19.4" y="1124" font-size="17.5" textLength="116.1" lengthAdjust="spacingAndGlyphs" fill="#262626" stroke="#262626" stroke-width="0.12">VC 104/4-7 A</text>
<text x="208.1" y="1124" font-size="17.5" text-anchor="middle" textLength="32.9" lengthAdjust="spacingAndGlyphs" fill="#262626" stroke="#262626" stroke-width="0.12">230</text>
<text x="318.4" y="1124" font-size="17.5" text-anchor="middle" textLength="21.3" lengthAdjust="spacingAndGlyphs" fill="#262626" stroke="#262626" stroke-width="0.12">90</text>
<text x="364" y="1153" font-size="12" text-anchor="end" textLength="78.2" lengthAdjust="spacingAndGlyphs" fill="#262626" stroke="#262626" stroke-width="0.12">Maße in mm</text>
<rect x="396.5" y="1078.3" width="249.6" height="26" fill="#e2e2e2" stroke="none" stroke-width="0"/>
<rect x="396.5" y="1078.3" width="249.6" height="81.4" fill="none" stroke="#333333" stroke-width="1.3"/>
<line x1="396.5" y1="1104.3" x2="646.1" y2="1104.3" stroke="#333333" stroke-width="1.1"/>
<line x1="396.5" y1="1129.1" x2="646.1" y2="1129.1" stroke="#333333" stroke-width="1.1"/>
<line x1="531.7" y1="1078.3" x2="531.7" y2="1159.7" stroke="#333333" stroke-width="1.1"/>
<text x="403" y="1099" font-size="18.5" font-weight="bold" textLength="90.2" lengthAdjust="spacingAndGlyphs" fill="#262626" stroke="#262626" stroke-width="0.12">Gerätetyp</text>
<text x="588.6" y="1099" font-size="18.5" font-weight="bold" text-anchor="middle" fill="#262626" stroke="#262626" stroke-width="0.12">C</text>
<text x="403.2" y="1123.7" font-size="17.5" textLength="87.4" lengthAdjust="spacingAndGlyphs" fill="#262626" stroke="#262626" stroke-width="0.12">VIH R 120</text>
<text x="588.6" y="1123.7" font-size="17.5" text-anchor="middle" textLength="33.2" lengthAdjust="spacingAndGlyphs" fill="#262626" stroke="#262626" stroke-width="0.12">820</text>
<text x="403.2" y="1148.4" font-size="17.5" textLength="87.4" lengthAdjust="spacingAndGlyphs" fill="#262626" stroke="#262626" stroke-width="0.12">VIH R 150</text>
<text x="588.6" y="1148.4" font-size="17.5" text-anchor="middle" textLength="33.2" lengthAdjust="spacingAndGlyphs" fill="#262626" stroke="#262626" stroke-width="0.12">955</text>
</svg>
</body></html>
